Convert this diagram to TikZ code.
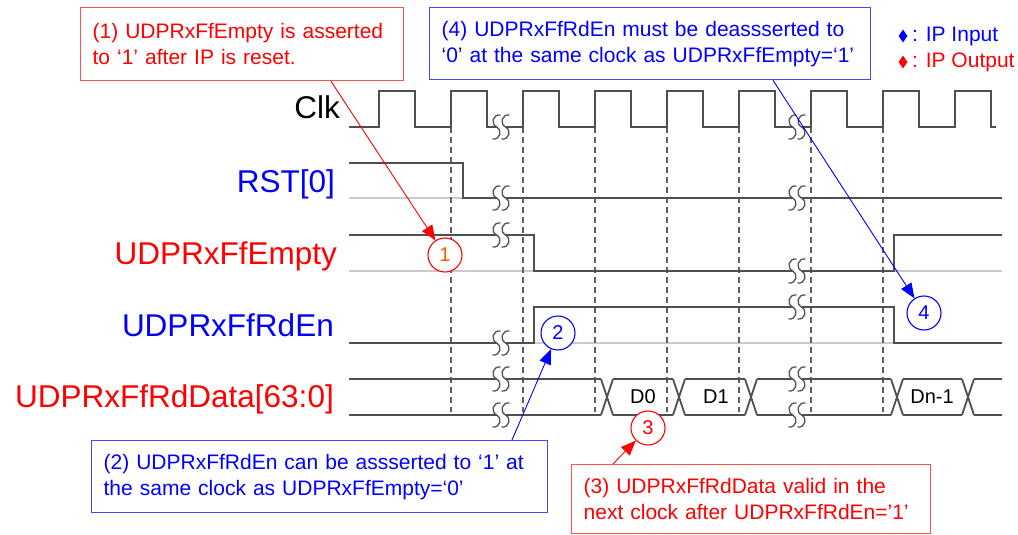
\documentclass[tikz,border=0pt]{standalone}
\usepackage{fontspec}
\setmainfont{Liberation Sans}
\usetikzlibrary{arrows.meta,shapes.geometric}
\definecolor{sig}{HTML}{505050}
\definecolor{refg}{HTML}{CACACA}
\definecolor{dashgray}{HTML}{606060}
\definecolor{myred}{HTML}{FF0000}
\definecolor{myblue}{HTML}{0000FF}
\definecolor{boxred}{HTML}{FF5050}
\definecolor{boxblue}{HTML}{4848F8}
\definecolor{orng}{HTML}{FF5A00}
\begin{document}
\begin{tikzpicture}[x=1pt,y=-1pt,
  sigline/.style={draw=sig,line width=1.8pt},
  refline/.style={draw=refg,line width=1.8pt},
  guide/.style={draw=dashgray,line width=1.3pt,dash pattern=on 6pt off 4pt},
  lbl/.style={inner sep=0,anchor=base east,font=\fontsize{31.5}{32}\selectfont},
  ctext/.style={font=\fontsize{21}{26}\selectfont},
  rbox/.style={ctext,draw=boxred,text=myred,line width=1.3pt,fill=white,anchor=north west,align=left,inner xsep=12pt,inner ysep=0pt},
  bbox/.style={ctext,draw=boxblue,text=myblue,line width=1.3pt,fill=white,anchor=north west,align=left,inner xsep=12pt,inner ysep=0pt},
  rcirc/.style={circle,draw=myred,fill=white,line width=1.1pt,minimum size=34pt,inner sep=0,font=\fontsize{20}{20}\selectfont},
  bcirc/.style={circle,draw=myblue,fill=white,line width=1.1pt,minimum size=34pt,inner sep=0,text=myblue,font=\fontsize{20}{20}\selectfont},
  rarrow/.style={draw=myred,line width=0.9pt,-{Triangle[length=15pt,width=12pt]}},
  barrow/.style={draw=myblue,line width=0.9pt,-{Triangle[length=15pt,width=12pt]}},
  dlbl/.style={inner sep=0,font=\fontsize{20}{20}\selectfont},
  legmark/.style={diamond,inner sep=0,minimum width=9pt,minimum height=13pt},
  brk/.pic={
    \fill[white] (-4.5,-2.6) rectangle (4.5,2.6);
    \foreach \cx in {-4.5,4.5}{
      \draw[sig,line width=1.3pt] (\cx+4,-12) .. controls (\cx-4,-13) and (\cx-6,-3) .. (\cx,0) .. controls (\cx+6,3) and (\cx+4,13) .. (\cx-4,12);
    }
  }
]
\useasboundingbox (0,0) rectangle (1018,535);

% reference (low level) lines
\draw[refline] (349,198) -- (463,198);
\draw[refline] (349,271) -- (534,271);
\draw[refline] (894,271) -- (1002,271);
\draw[refline] (534,343) -- (894,343);

% dashed guides
\foreach \r in {451,523,...,883} \draw[guide] (\r,127) -- (\r,412);

% clock
\draw[sigline] (349,127) foreach \r in {379,451,...,955} { -- (\r,127) -- (\r,91) -- (\r+36,91) -- (\r+36,127) } -- (996,127);

% RST[0]
\draw[sigline] (349,163) -- (463,163) -- (463,198) -- (1002,198);
% UDPRxFfEmpty
\draw[sigline] (349,235) -- (534,235) -- (534,271) -- (894,271) -- (894,235) -- (1002,235);
% UDPRxFfRdEn
\draw[sigline] (349,343) -- (534,343) -- (534,307) -- (894,307) -- (894,343) -- (1002,343);
% data bus
\foreach \a/\b in {349/601,613/673,685/745,757/891,903/962,974/1002}{
  \draw[sigline] (\a,379) -- (\b,379);
  \draw[sigline] (\a,415) -- (\b,415);
}
\foreach \c in {607,679,751,897,968}{
  \draw[sigline] (\c-6,379) -- (\c+6,415);
  \draw[sigline] (\c-6,415) -- (\c+6,379);
}
\node[dlbl] (d0) at (643,397) {D0};
\node[dlbl] (d1) at (716,397) {D1};
\node[dlbl] (dn) at (932,397) {Dn-1};

% breaks
\foreach \bx in {501,797}{
  \foreach \by in {127,198,379,415} \pic at (\bx,\by) {brk};
}
\pic at (501,235) {brk};
\pic at (797,271) {brk};
\pic at (501,343) {brk};
\pic at (797,307) {brk};

% signal labels
\node[lbl] (lclk) at (340,118) {Clk};
\node[lbl,text=myblue] (lrst) at (335,192) {RST[0]};
\node[lbl,text=myred] (lemp) at (337,264) {UDPRxFfEmpty};
\node[lbl,text=myblue] (lrden) at (334,336) {UDPRxFfRdEn};
\node[lbl,text=myred] (ldata) at (334,407) {UDPRxFfRdData[63:0]};

% legend
\node[legmark,fill=myblue] (dIn) at (903,36) {};
\node[legmark,fill=myred] (dOut) at (903,62) {};
\node[anchor=west,inner sep=0,text=myblue,font=\fontsize{21}{21}\selectfont] (lIn) at (912,36) {: IP Input};
\node[anchor=west,inner sep=0,text=myred,font=\fontsize{21}{21}\selectfont] (lOut) at (912,62) {: IP Output};

% callout boxes
\node[rbox,text width=299pt,minimum height=73pt] (c1) at (80,7) {(1) UDPRxFfEmpty is asserted\\to ‘1’ after IP is reset.};
\node[bbox,text width=417pt,minimum height=72pt] (c4) at (429,7) {(4) UDPRxFfRdEn must be deassserted to\\‘0’ at the same clock as UDPRxFfEmpty=‘1’};
\node[bbox,text width=432pt,minimum height=72pt] (c2) at (91,440) {(2) UDPRxFfRdEn can be assserted to ‘1’ at\\the same clock as UDPRxFfEmpty=‘0’};
\node[rbox,text width=335pt,minimum height=69pt] (c3) at (571,464) {(3) UDPRxFfRdData valid in the\\next clock after UDPRxFfRdEn=’1’};

% numbered circles
\node[rcirc,text=orng] (n1) at (445,255) {1};
\node[bcirc] (n2) at (558,333) {2};
\node[rcirc,text=myred] (n3) at (648,428) {3};
\node[bcirc] (n4) at (924,313) {4};

% callout arrows
\coordinate (a1) at ([xshift=251pt]c1.south west);
\coordinate (a4) at ([xshift=344pt]c4.south west);
\coordinate (a2) at ([xshift=421pt]c2.north west);
\coordinate (a3) at ([xshift=42pt]c3.north west);
\draw[rarrow] (a1) -- (n1);
\draw[barrow] (a4) -- (n4);
\draw[barrow] (a2) -- (n2);
\draw[rarrow] (a3) -- (n3);
\end{tikzpicture}
\end{document}
